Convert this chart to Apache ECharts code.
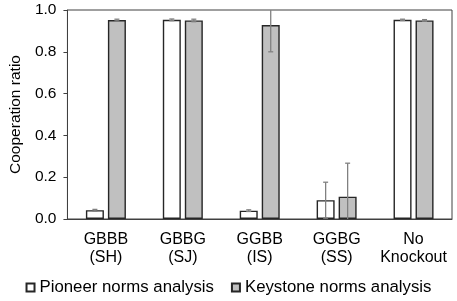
<!DOCTYPE html>
<html>
<head>
<meta charset="utf-8">
<script src="https://cdn.jsdelivr.net/npm/echarts@6/dist/echarts.min.js"></script>
<style>html,body{margin:0;padding:0;background:#fff}#c{width:457px;height:301px}</style>
</head>
<body>
<div id="c"></div>
<script>
var categories = ['GBBB\n(SH)', 'GBBG\n(SJ)', 'GGBB\n(IS)', 'GGBG\n(SS)', 'No\nKnockout'];
var pioneerValues = [0.042, 0.953, 0.040, 0.090, 0.953];
var pioneerErrors = [0.004, 0.004, 0.004, 0.086, 0.003];
var keystoneValues = [0.952, 0.950, 0.928, 0.107, 0.950];
var keystoneErrors = [0.004, 0.006, 0.128, 0.160, 0.004];
var seriesNames = ['Pioneer norms analysis', 'Keystone norms analysis'];
var yTicks = [0, 0.2, 0.4, 0.6, 0.8, 1.0];

var FONT = '"Liberation Sans", Arial, sans-serif';
var chart = echarts.init(document.getElementById('c'), null, {renderer: 'canvas'});
var BAR_W = 18, BAR_GAP = 4;

function errData(vals, errs) {
  return vals.map(function (v, i) { return [i, v - errs[i], v + errs[i]]; });
}
function errSeries(vals, errs, side) {
  return {
    type: 'custom',
    clip: true,
    z: 5,
    silent: true,
    data: errData(vals, errs),
    encode: {x: 0, y: [1, 2]},
    renderItem: function (params, api) {
      var i = api.value(0);
      var lo = api.coord([i, Math.max(0, api.value(1))]);
      var hi = api.coord([i, Math.min(1, api.value(2))]);
      var x = lo[0] + side * (BAR_W + BAR_GAP) / 2;
      var cw = 2.5;
      var style = {stroke: '#808080', lineWidth: 1.3};
      var children = [
        {type: 'line', shape: {x1: x, y1: lo[1], x2: x, y2: hi[1]}, style: style}
      ];
      if (api.value(2) <= 1) children.push({type: 'line', shape: {x1: x - cw, y1: hi[1], x2: x + cw, y2: hi[1]}, style: style});
      if (api.value(1) >= 0) children.push({type: 'line', shape: {x1: x - cw, y1: lo[1], x2: x + cw, y2: lo[1]}, style: style});
      return {type: 'group', children: children};
    }
  };
}

chart.setOption({
  animation: false,
  grid: {left: 60, right: 5, top: 10, bottom: 82, show: true, borderColor: '#404040', borderWidth: 1},
  legend: {
    bottom: 0,
    left: 'center',
    itemWidth: 8,
    itemHeight: 8,
    itemGap: 17,
    icon: 'rect',
    textStyle: {fontFamily: FONT, fontSize: 16.8, color: '#000'},
    data: seriesNames
  },
  xAxis: {
    type: 'category',
    data: categories,
    axisLine: {lineStyle: {color: '#404040', width: 1}},
    axisTick: {show: false},
    axisLabel: {fontFamily: FONT, fontSize: 16, color: '#000', margin: 12, lineHeight: 18, interval: 0}
  },
  yAxis: {
    type: 'value',
    min: 0, max: 1, interval: 0.2,
    name: 'Cooperation ratio',
    nameLocation: 'middle',
    nameGap: 43,
    nameTextStyle: {fontFamily: FONT, fontSize: 15.5, color: '#000'},
    axisLine: {show: true, lineStyle: {color: '#404040', width: 1}},
    axisTick: {show: true, inside: false, length: 4, lineStyle: {color: '#404040'}},
    splitLine: {show: false},
    axisLabel: {
      fontFamily: FONT, fontSize: 15.5, color: '#000', margin: 11,
      formatter: function (v) { return v.toFixed(1); }
    }
  },
  series: [
    {
      name: seriesNames[0], type: 'bar', data: pioneerValues, barWidth: BAR_W, barGap: (BAR_GAP / BAR_W * 100) + '%',
      itemStyle: {color: '#ffffff', borderColor: '#262626', borderWidth: 1.4}
    },
    {
      name: seriesNames[1], type: 'bar', data: keystoneValues, barWidth: BAR_W,
      itemStyle: {color: '#c0c0c0', borderColor: '#262626', borderWidth: 1.4}
    },
    errSeries(pioneerValues, pioneerErrors, -1),
    errSeries(keystoneValues, keystoneErrors, 1)
  ]
});
</script>
</body>
</html>
